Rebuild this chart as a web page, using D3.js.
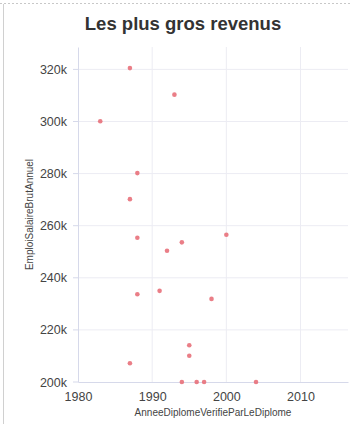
<!DOCTYPE html>
<html lang="fr">
<head>
    <meta charset="UTF-8">
    <title>Les plus gros revenus</title>
    <script src="https://d3js.org/d3.v7.min.js"></script>
    <style>
        body {
            margin: 0;
            font-family: "Liberation Sans", Arial, sans-serif;
            background: #fff;
        }
    </style>
</head>
<body>
    <svg id="chart" width="351" height="424"></svg>
    <script>
        // Data: year of diploma vs annual gross salary
        const years = [1987, 1993, 1983, 1988, 1987, 2000, 1988, 1994, 1992, 1991, 1988, 1998, 1995, 1995, 1987, 1994, 1996, 1997, 2004];
        const salaries = [320500, 310300, 300100, 280200, 270200, 256500, 255400, 253600, 250400, 235000, 233700, 231900, 214100, 210100, 207200, 200000, 200000, 200000, 200000];
        const xTicks = [1980, 1990, 2000, 2010];
        const yTicks = [200000, 220000, 240000, 260000, 280000, 300000, 320000];

        const points = years.map((y, i) => ({ year: y, salary: salaries[i] }));

        const width = 351, height = 424;
        const margin = { top: 47, right: 3, bottom: 42, left: 78 };
        const innerW = width - margin.left - margin.right;
        const innerH = height - margin.top - margin.bottom;

        const svg = d3.select("#chart");

        // frame: dotted top, solid left
        svg.append("line")
            .attr("x1", 0).attr("x2", width).attr("y1", 3.5).attr("y2", 3.5)
            .attr("stroke", "#c8c8c8").attr("stroke-dasharray", "2,2");
        svg.append("line")
            .attr("x1", 3.5).attr("x2", 3.5).attr("y1", 4).attr("y2", height)
            .attr("stroke", "#d0d0d0");

        // title
        svg.append("text")
            .attr("x", 183).attr("y", 30)
            .attr("text-anchor", "middle")
            .attr("font-size", 18.5)
            .attr("font-weight", "bold")
            .attr("fill", "#333")
            .text("Les plus gros revenus");

        const g = svg.append("g")
            .attr("transform", `translate(${margin.left},${margin.top})`);

        const x = d3.scaleLinear().domain([1980, 2016.4]).range([0, innerW]);
        const y = d3.scaleLinear().domain([200000, 328600]).range([innerH, 0]);

        // grid
        g.selectAll(".vgrid").data(xTicks.slice(1)).enter().append("line")
            .attr("x1", d => x(d)).attr("x2", d => x(d))
            .attr("y1", 0).attr("y2", innerH)
            .attr("stroke", "#ececf3");
        g.selectAll(".hgrid").data(yTicks.slice(1)).enter().append("line")
            .attr("x1", 0).attr("x2", innerW)
            .attr("y1", d => y(d)).attr("y2", d => y(d))
            .attr("stroke", "#ececf3");

        // axes
        const xAxis = g.append("g")
            .attr("transform", `translate(0,${innerH})`)
            .call(d3.axisBottom(x).tickValues(xTicks).tickFormat(d3.format("d")).tickSize(0).tickPadding(10));
        const yAxis = g.append("g")
            .call(d3.axisLeft(y).tickValues(yTicks).tickFormat(d => d / 1000 + "k").tickSize(0).tickPadding(11));

        [xAxis, yAxis].forEach(a => {
            a.select(".domain").attr("stroke", "#d6d9ea");
            a.selectAll("text").attr("font-size", 12.5).attr("fill", "#444")
                .attr("font-family", "'Liberation Sans', Arial, sans-serif");
        });
        // ticks to the left of the y axis (short)
        g.selectAll(".ytick").data(yTicks).enter().append("line")
            .attr("x1", -5).attr("x2", 0)
            .attr("y1", d => y(d)).attr("y2", d => y(d))
            .attr("stroke", "#d6d9ea");

        // axis titles
        svg.append("text")
            .attr("x", 213).attr("y", 416)
            .attr("text-anchor", "middle")
            .attr("font-size", 10)
            .attr("fill", "#444")
            .text("AnneeDiplomeVerifieParLeDiplome");
        svg.append("text")
            .attr("transform", `translate(33,${margin.top + innerH / 2}) rotate(-90)`)
            .attr("text-anchor", "middle")
            .attr("font-size", 10)
            .attr("fill", "#444")
            .text("EmploiSalaireBrutAnnuel");

        // points
        g.selectAll("circle").data(points).enter().append("circle")
            .attr("cx", d => x(d.year))
            .attr("cy", d => y(d.salary))
            .attr("r", 2.3)
            .attr("fill", "#e8707a")
            .attr("opacity", 0.9);
    </script>
</body>
</html>
